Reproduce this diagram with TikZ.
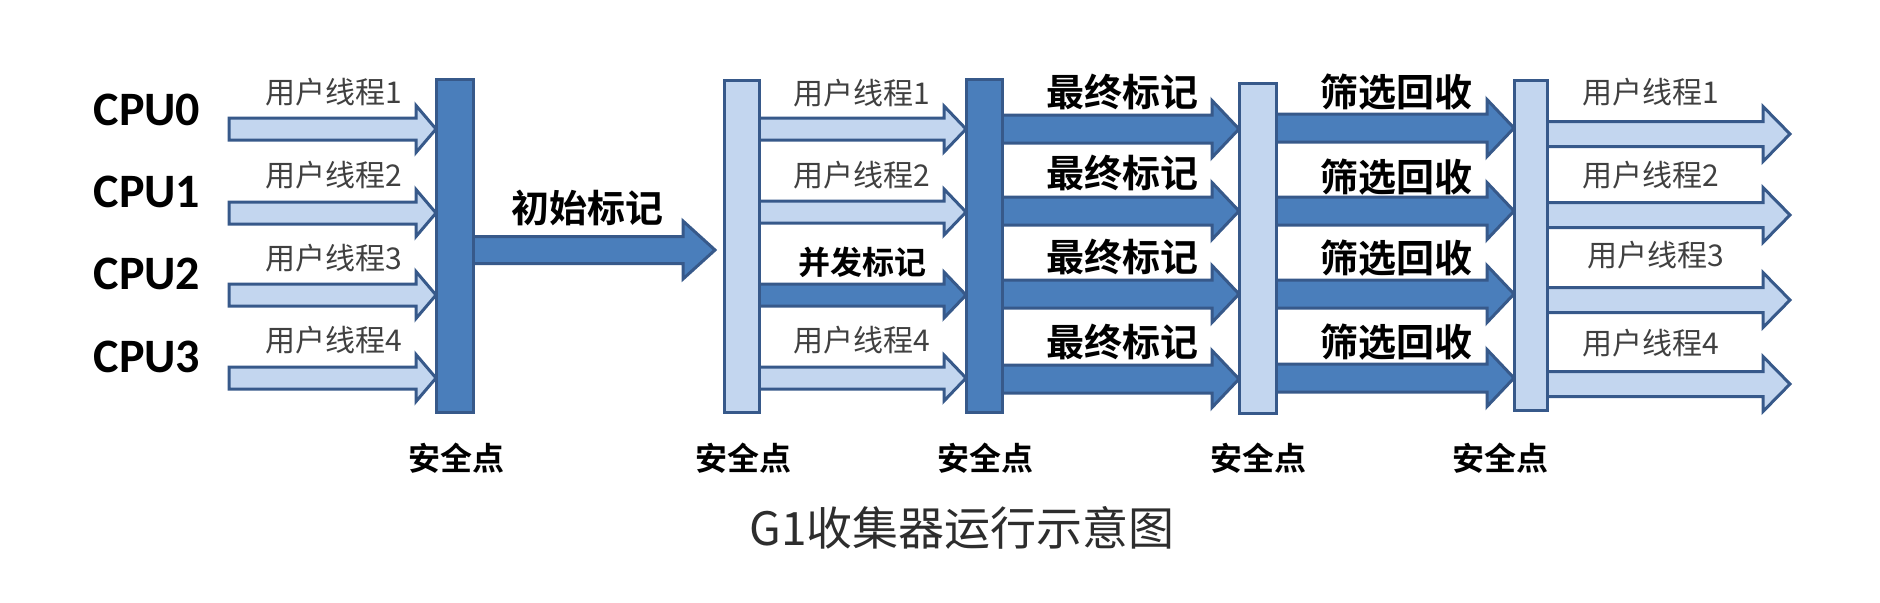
\documentclass[tikz,border=0pt]{standalone}
\usepackage{fontspec}
\setmainfont{Carlito}
\newfontfamily\cjk{Noto Sans CJK SC}[BoldFont={Noto Sans CJK SC Bold}]
\usetikzlibrary{calc}
\definecolor{dkblue}{HTML}{4A7EBB}
\definecolor{ltblue}{HTML}{C3D6EF}
\definecolor{edge}{HTML}{37598A}
\definecolor{txtgray}{HTML}{404040}
% #1 style, #2 start anchor, #3 end anchor, #4 y (px), #5 half shaft, #6 half head, #7 head length
\newcommand\blockarrow[7]{%
  \path[#1] let \p1=(#2), \p2=(#3), \p3=(0,#4) in
    (\x1,\y3+#5) -- (\x2-#7,\y3+#5) -- (\x2-#7,\y3+#6) -- (\x2,\y3)
    -- (\x2-#7,\y3-#6) -- (\x2-#7,\y3-#5) -- (\x1,\y3-#5) -- cycle;}
\begin{document}
\begin{tikzpicture}[x=0.5pt,y=-0.5pt,
  dk/.style={fill=dkblue,draw=edge,line width=1.5pt,line join=miter},
  lt/.style={fill=ltblue,draw=edge,line width=1.5pt,line join=miter},
  bar/.style={rectangle,inner sep=0pt,outer sep=0pt,line width=1.5pt,draw=edge},
  dkbar/.style={bar,fill=dkblue},
  ltbar/.style={bar,fill=ltblue},
  cpu/.style={font=\bfseries\fontsize{24}{24}\selectfont,inner sep=0pt},
  thr/.style={font=\cjk\fontsize{15}{15}\selectfont,text=txtgray,inner sep=0pt},
  ph/.style={font=\cjk\bfseries\fontsize{19}{19}\selectfont,inner sep=0pt},
  phs/.style={font=\cjk\bfseries\fontsize{16}{16}\selectfont,inner sep=0pt},
  safe/.style={font=\cjk\bfseries\fontsize{16}{16}\selectfont,inner sep=0pt},
  ttl/.style={font=\cjk\fontsize{23}{23}\selectfont,text=txtgray!70!black,inner sep=0pt}]
\useasboundingbox (0,0) rectangle (1880,602);

% helper coordinates (only x is used)
\coordinate (cstart) at (229,0);
\coordinate (e2) at (715,0);
\coordinate (cend) at (1790,0);

% bars (named nodes; drawn again on top after the arrows)
\path
  (454.5,245.5) node[dkbar,minimum width=18.5pt,minimum height=166.5pt] (b1) {}
  (741.5,246)   node[ltbar,minimum width=17.5pt,minimum height=166pt] (b2) {}
  (984,245.5)   node[dkbar,minimum width=18pt,minimum height=166.5pt] (b3) {}
  (1257.5,248)  node[ltbar,minimum width=18.5pt,minimum height=165pt] (b4) {}
  (1530.5,245)  node[ltbar,minimum width=16.5pt,minimum height=165pt] (b5) {};

% column 1: user threads into first safepoint
\foreach \yy in {129,213,295,378}{\blockarrow{lt}{cstart}{b1.west}{\yy}{5.5pt}{11.75pt}{10pt}}
% column 2: initial mark
\blockarrow{dk}{b1.east}{e2}{250}{6.75pt}{14.5pt}{16pt}
% column 3: concurrent mark with user threads
\blockarrow{lt}{b2.east}{b3.west}{129}{5.5pt}{11.5pt}{11pt}
\blockarrow{lt}{b2.east}{b3.west}{212}{5.5pt}{11.5pt}{11pt}
\blockarrow{dk}{b2.east}{b3.west}{295}{5.5pt}{11.5pt}{11pt}
\blockarrow{lt}{b2.east}{b3.west}{378}{5.5pt}{11.5pt}{11pt}
% column 4: final mark
\foreach \yy in {129,211,294,379}{\blockarrow{dk}{b3.east}{b4.west}{\yy}{7pt}{14.25pt}{13.5pt}}
% column 5: evacuation
\foreach \yy in {128,211,294,378}{\blockarrow{dk}{b4.east}{b5.west}{\yy}{7pt}{14.25pt}{13.5pt}}
% column 6: user threads resume
\foreach \yy in {134,215,300,384}{\blockarrow{lt}{b5.east}{cend}{\yy}{6.25pt}{13.75pt}{13.5pt}}

% redraw bars on top
\path
  (454.5,245.5) node[dkbar,minimum width=18.5pt,minimum height=166.5pt] {}
  (741.5,246)   node[ltbar,minimum width=17.5pt,minimum height=166pt] {}
  (984,245.5)   node[dkbar,minimum width=18pt,minimum height=166.5pt] {}
  (1257.5,248)  node[ltbar,minimum width=18.5pt,minimum height=165pt] {}
  (1530.5,245)  node[ltbar,minimum width=16.5pt,minimum height=165pt] {};

% CPU labels
\node[cpu] (cpu0) at (147,110) {CPU0};
\node[cpu] (cpu1) at (147,192) {CPU1};
\node[cpu] (cpu2) at (147,274) {CPU2};
\node[cpu] (cpu3) at (147,357) {CPU3};

% column 1 labels
\node[thr] (t11) at (334,92)  {用户线程1};
\node[thr] (t12) at (334,175) {用户线程2};
\node[thr] (t13) at (334,258) {用户线程3};
\node[thr] (t14) at (334,340) {用户线程4};

% initial mark
\node[ph] (init) at (587,208) {初始标记};

% column 3 labels
\node[thr] (t31) at (862,93)  {用户线程1};
\node[thr] (t32) at (862,175) {用户线程2};
\node[phs] (conc) at (862,262) {并发标记};
\node[thr] (t34) at (862,340) {用户线程4};

% column 4 labels
\node[ph] (f1) at (1122,92)  {最终标记};
\node[ph] (f2) at (1122,173) {最终标记};
\node[ph] (f3) at (1122,257) {最终标记};
\node[ph] (f4) at (1122,342) {最终标记};

% column 5 labels
\node[ph] (s1) at (1396,92)  {筛选回收};
\node[ph] (s2) at (1396,177) {筛选回收};
\node[ph] (s3) at (1396,258) {筛选回收};
\node[ph] (s4) at (1396,342) {筛选回收};

% column 6 labels
\node[thr] (t61) at (1651,92)  {用户线程1};
\node[thr] (t62) at (1651,175) {用户线程2};
\node[thr] (t63) at (1656,255) {用户线程3};
\node[thr] (t64) at (1651,343) {用户线程4};

% safepoints
\node[safe] (sp1) at (456,458)  {安全点};
\node[safe] (sp2) at (743,458)  {安全点};
\node[safe] (sp3) at (985,458)  {安全点};
\node[safe] (sp4) at (1258,458) {安全点};
\node[safe] (sp5) at (1500,458) {安全点};

% title
\node[ttl] (title) at (962,528) {G1收集器运行示意图};
\end{tikzpicture}
\end{document}
